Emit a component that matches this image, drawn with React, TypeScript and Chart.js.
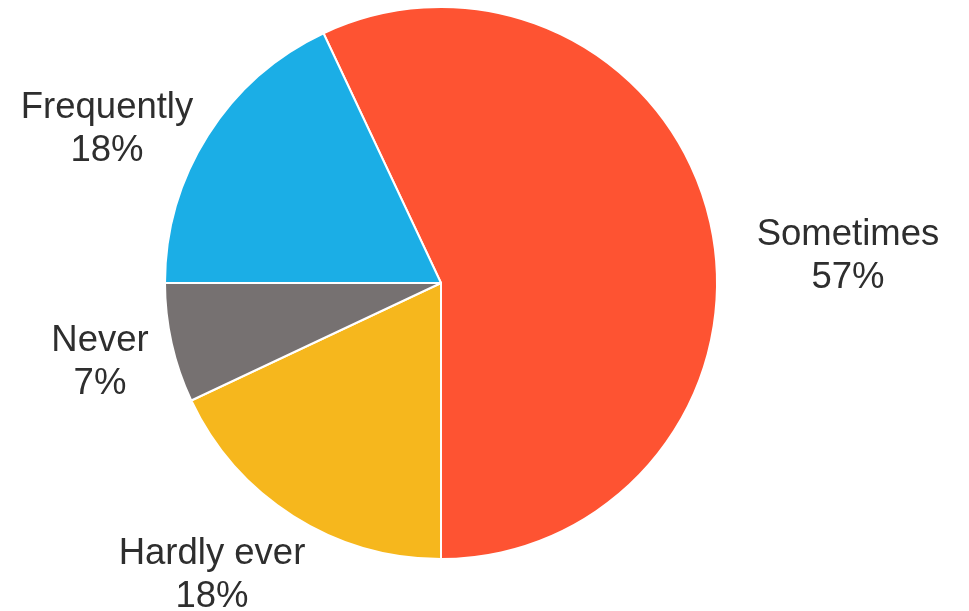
import React, { useEffect, useRef } from "react";
import { Chart, registerables } from "chart.js";

Chart.register(...registerables);

const categories = ["Sometimes", "Hardly ever", "Never", "Frequently"];
const values = [57, 18, 7, 18];
const percentLabels = ["57%", "18%", "7%", "18%"];
const colors = ["#FE5332", "#F6B71D", "#767171", "#1BAEE6"];

// label centres (layout, not data)
const labelPos = [
  { x: 848, y: 245 },
  { x: 212, y: 564 },
  { x: 100, y: 351 },
  { x: 107, y: 118 },
];

const labelPlugin = {
  id: "outsideLabels",
  afterDraw(chart: any) {
    const ctx = chart.ctx;
    ctx.save();
    ctx.font = "36.5px 'Liberation Sans', Arial, sans-serif";
    ctx.fillStyle = "#2e2e2e";
    ctx.textAlign = "center";
    ctx.textBaseline = "alphabetic";
    const labels = chart.data.labels as string[];
    labels.forEach((name, i) => {
      const p = labelPos[i];
      ctx.fillText(name, p.x, p.y);
      ctx.fillText(percentLabels[i], p.x, p.y + 43);
    });
    ctx.restore();
  },
};

export default function App() {
  const ref = useRef<HTMLCanvasElement | null>(null);
  useEffect(() => {
    if (!ref.current) return;
    const chart = new Chart(ref.current, {
      type: "pie",
      data: {
        labels: categories,
        datasets: [
          {
            data: values,
            backgroundColor: colors,
            borderColor: "#ffffff",
            borderWidth: 2,
          },
        ],
      },
      options: {
        responsive: false,
        animation: false,
        rotation: -25.2,
        layout: { padding: { left: 164, right: 251, top: 6, bottom: 51 } },
        plugins: {
          legend: { display: false },
          tooltip: { enabled: false },
        },
      },
      plugins: [labelPlugin],
    });
    return () => chart.destroy();
  }, []);
  return (
    <div style={{ position: "absolute", left: 0, top: 0, width: 969, height: 611, background: "#fff" }}>
      <canvas ref={ref} width={969} height={611} />
    </div>
  );
}
